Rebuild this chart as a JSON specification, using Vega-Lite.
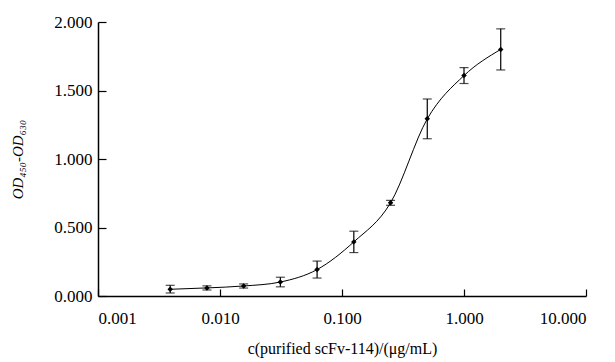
{
  "$schema": "https://vega.github.io/schema/vega-lite/v6.json",
  "width": 488,
  "height": 274,
  "autosize": {"type": "none"},
  "padding": {"left": 98, "top": 22, "right": 29, "bottom": 66},
  "background": "white",
  "config": {
    "view": {"stroke": null},
    "font": "Liberation Serif",
    "axis": {
      "domainColor": "black",
      "domainWidth": 1.5,
      "tickColor": "black",
      "tickWidth": 1.2,
      "grid": false,
      "labelFont": "Liberation Serif",
      "labelFontSize": 17,
      "labelColor": "black",
      "titleFont": "Liberation Serif",
      "titleFontSize": 16,
      "titleFontWeight": "normal",
      "titleColor": "black"
    }
  },
  "data": {
    "values": [
      {"conc": 0.00390625, "od": 0.049, "lo": 0.022, "hi": 0.078},
      {"conc": 0.0078125, "od": 0.059, "lo": 0.044, "hi": 0.074},
      {"conc": 0.015625, "od": 0.073, "lo": 0.058, "hi": 0.088},
      {"conc": 0.03125, "od": 0.102, "lo": 0.067, "hi": 0.137},
      {"conc": 0.0625, "od": 0.193, "lo": 0.131, "hi": 0.255},
      {"conc": 0.125, "od": 0.395, "lo": 0.317, "hi": 0.473},
      {"conc": 0.25, "od": 0.68, "lo": 0.662, "hi": 0.698},
      {"conc": 0.5, "od": 1.293, "lo": 1.148, "hi": 1.438},
      {"conc": 1, "od": 1.609, "lo": 1.551, "hi": 1.667},
      {"conc": 2, "od": 1.8, "lo": 1.65, "hi": 1.95}
    ]
  },
  "encoding": {
    "x": {
      "field": "conc",
      "type": "quantitative",
      "scale": {"type": "log", "domain": [0.001, 10], "nice": false},
      "axis": {
        "values": [0.001, 0.01, 0.1, 1, 10],
        "format": ".3f",
        "tickSize": -7,
        "labelPadding": 21,
        "title": "c(purified scFv-114)/(μg/mL)",
        "titlePadding": 14
      }
    }
  },
  "layer": [
    {
      "mark": {"type": "errorbar", "ticks": {"size": 9, "color": "black", "thickness": 1.2}, "rule": {"color": "black", "strokeWidth": 1.2}},
      "encoding": {
        "y": {
          "field": "lo",
          "type": "quantitative",
          "scale": {"domain": [0, 2], "nice": false},
          "axis": {
            "values": [0, 0.5, 1, 1.5, 2],
            "format": ".3f",
            "tickSize": -8,
            "labelPadding": 14,
            "title": "OD₄₅₀-OD₆₃₀",
            "titleFontStyle": "italic",
            "titleFontSize": 15,
            "titlePadding": 28
          }
        },
        "y2": {"field": "hi"}
      }
    },
    {
      "mark": {"type": "line", "interpolate": "monotone", "color": "black", "strokeWidth": 1},
      "encoding": {
        "y": {"field": "od", "type": "quantitative"}
      }
    },
    {
      "mark": {"type": "point", "shape": "diamond", "filled": true, "color": "black", "size": 30, "opacity": 1},
      "encoding": {
        "y": {"field": "od", "type": "quantitative"}
      }
    }
  ]
}
